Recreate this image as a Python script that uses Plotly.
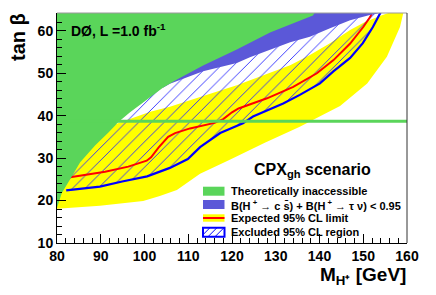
import plotly.graph_objects as go

# ---------------- data ----------------
# Theoretically inaccessible region: lower-right boundary (M_H+ [GeV], tan beta)
green_x = [80.0, 81.1, 83.0, 85.3, 88.7, 91.7, 93.3, 93.9, 96.7, 100.6, 104.2, 107.0,
           113.4, 121.1, 128.7, 133.3, 138.5, 139.0, 80.0]
green_y = [18.3, 21.8, 25.0, 29.0, 33.0, 36.0, 37.7, 38.4, 40.8, 43.8, 46.6, 48.3,
           51.8, 55.6, 59.6, 61.5, 63.6, 64.4, 64.4]

# B(H+ -> cs) + B(H+ -> tau nu) < 0.95 : lower boundary
purple_x = [104.2, 105.8, 113.4, 121.1, 124.1, 133.3, 137.8, 142.4, 147.0, 151.5, 155.0, 104.2]
purple_y = [46.6, 47.5, 50.5, 52.4, 53.8, 57.3, 58.6, 60.6, 62.5, 63.7, 64.4, 64.4]

# expected-limit band (yellow): lower edge then upper edge (reversed)
band_lo_x = [80.0, 89.8, 99.7, 103.5, 107.4, 112.7, 119.5, 127.5, 135.5, 140.8, 144.7,
             150.9, 155.4, 158.4, 159.2]
band_lo_y = [18.1, 18.8, 19.9, 21.1, 22.5, 26.3, 29.6, 33.6, 37.4, 40.2, 42.3,
             47.6, 53.9, 60.9, 64.4]
band_hi_x = [156.3, 153.8, 150.4, 147.0, 142.4, 137.8, 133.3, 128.7, 121.1, 112.7,
             105.8, 101.3, 92.8, 80.0]
band_hi_y = [64.4, 63.5, 62.1, 60.2, 57.1, 54.3, 51.9, 50.1, 47.2, 44.4,
             42.1, 40.9, 37.8, 38.0]

# observed excluded region boundary (blue)
obs_x = [82.1, 89.8, 94.9, 100.6, 105.8, 109.9, 112.7, 114.5, 117.3, 122.5, 124.8,
         131.7, 135.5, 140.1, 143.1, 147.0, 149.9, 152.2, 153.8, 154.0]
obs_y = [22.4, 23.3, 24.5, 25.7, 27.7, 29.8, 32.6, 33.9, 35.9, 38.2, 39.8,
         42.9, 44.9, 47.6, 50.4, 53.6, 57.1, 60.9, 63.9, 64.4]
excl_close_x = [80.0, 80.0]
excl_close_y = [64.4, 22.4]

# expected 95% CL limit (red)
exp_x = [83.0, 91.0, 96.3, 100.5, 101.5, 103.2, 105.4, 107.0, 110.4, 114.0, 116.0,
         118.0, 120.0, 121.5, 128.0, 134.0, 139.4, 143.2, 147.0, 150.0, 151.6, 152.1]
exp_y = [25.5, 26.8, 28.0, 29.4, 30.2, 32.5, 35.0, 35.9, 37.0, 37.8, 38.3,
         39.2, 40.8, 41.7, 44.1, 46.8, 50.0, 53.1, 57.0, 60.9, 63.3, 64.4]

# horizontal theoretical line
hline_tanb = 38.7
mass_range = [80, 160]
tanb_range = [10, 64.2]

x_ticks = [80, 90, 100, 110, 120, 130, 140, 150, 160]
y_ticks = [10, 20, 30, 40, 50, 60]

legend_labels = [
    "Theoretically inaccessible",
    "B(H<sup> +</sup> \u2192 c s\u0304) + B(H<sup> +</sup> \u2192 \u03c4 \u03bd) &lt; 0.95",
    "Expected 95% CL limit",
    "Excluded 95% CL region",
]

# ---------------- styles ----------------
GREEN = "#5AD55A"
PURPLE = "#5B58D8"
YELLOW = "#FFFF00"
RED = "#FF0000"
BLUE = "#0000FF"
FONT = "Liberation Sans"

fig = go.Figure()

# yellow band
fig.add_trace(go.Scatter(
    x=band_lo_x + band_hi_x, y=band_lo_y + band_hi_y,
    fill="toself", fillcolor=YELLOW, mode="none", hoverinfo="skip", showlegend=False))

# hatched excluded region
fig.add_trace(go.Scatter(
    x=obs_x + excl_close_x, y=obs_y + excl_close_y,
    fill="toself", fillcolor="rgba(0,0,0,0)", mode="none",
    fillpattern=dict(shape="/", fgcolor="#2a2aff", fillmode="replace",
                     size=9, solidity=0.1),
    hoverinfo="skip", showlegend=False))

# expected limit
fig.add_trace(go.Scatter(x=exp_x, y=exp_y, mode="lines",
                         line=dict(color=RED, width=2), showlegend=False))
# observed limit
fig.add_trace(go.Scatter(x=obs_x, y=obs_y, mode="lines",
                         line=dict(color=BLUE, width=2.2), showlegend=False))

# purple region
fig.add_trace(go.Scatter(x=purple_x, y=purple_y, fill="toself", fillcolor=PURPLE,
                         mode="none", hoverinfo="skip", showlegend=False))
# green region
fig.add_trace(go.Scatter(x=green_x, y=green_y, fill="toself", fillcolor=GREEN,
                         mode="none", hoverinfo="skip", showlegend=False))
# green horizontal line
fig.add_trace(go.Scatter(x=mass_range, y=[hline_tanb, hline_tanb], mode="lines",
                         line=dict(color=GREEN, width=3), showlegend=False))

axis_common = dict(showgrid=False, zeroline=False, showline=True, linecolor="black",
                   linewidth=1, ticks="inside", tickcolor="black", tickwidth=1,
                   ticklen=9, automargin=False,
                   tickfont=dict(family=FONT, size=14, color="black", weight="bold"))

fig.update_xaxes(range=mass_range, tickvals=x_ticks,
                 minor=dict(ticks="inside", ticklen=5, dtick=2, tickcolor="black"),
                 **axis_common)
fig.update_yaxes(range=tanb_range, tickvals=y_ticks,
                 minor=dict(ticks="inside", ticklen=5, dtick=2, tickcolor="black"),
                 **axis_common)

# plot geometry in pixels
W, H = 436, 295
ML, MR, MT, MB = 57, 29, 13, 52
PW, PH = W - ML - MR, H - MT - MB


def px(xp):
    return (xp - ML) / PW


def py(yp):
    return (H - MB - yp) / PH


shapes = [
    dict(type="line", xref="paper", yref="paper", x0=0, x1=1, y0=1, y1=1,
         line=dict(color="#999999", width=1)),
    dict(type="line", xref="paper", yref="paper", x0=1, x1=1, y0=0, y1=1,
         line=dict(color="#333333", width=1)),
]

# legend symbols
bx0, bx1 = 203, 224.5
rows = [(186.7, 195.7), (200, 209), (214.3, 221.7), (227.7, 236.7)]
shapes.append(dict(type="rect", xref="paper", yref="paper", x0=px(bx0), x1=px(bx1),
                   y0=py(rows[0][1]), y1=py(rows[0][0]), fillcolor=GREEN, line_width=0))
shapes.append(dict(type="rect", xref="paper", yref="paper", x0=px(bx0), x1=px(bx1),
                   y0=py(rows[1][1]), y1=py(rows[1][0]), fillcolor=PURPLE, line_width=0))
shapes.append(dict(type="rect", xref="paper", yref="paper", x0=px(bx0), x1=px(bx1),
                   y0=py(rows[2][1]), y1=py(rows[2][0]), fillcolor=YELLOW, line_width=0))
ym = (rows[2][0] + rows[2][1]) / 2
shapes.append(dict(type="line", xref="paper", yref="paper", x0=px(bx0), x1=px(bx1),
                   y0=py(ym), y1=py(ym), line=dict(color=RED, width=2)))
hy0, hy1 = rows[3]
for k in [0, 7, 14]:
    xa = bx0 + k - 2
    xb = xa + (hy1 - hy0)
    xs, ys = xa, hy1
    xe, ye = xb, hy0
    if xs < bx0:
        ys = hy1 - (bx0 - xs)
        xs = bx0
    if xe > bx1:
        ye = hy0 + (xe - bx1)
        xe = bx1
    shapes.append(dict(type="line", xref="paper", yref="paper", x0=px(xs), x1=px(xe),
                       y0=py(ys), y1=py(ye), line=dict(color=BLUE, width=1)))
shapes.append(dict(type="rect", xref="paper", yref="paper", x0=px(bx0), x1=px(bx1),
                   y0=py(hy1), y1=py(hy0), line=dict(color=BLUE, width=2),
                   fillcolor="rgba(0,0,0,0)"))

annotations = []
for lab, (r0, r1) in zip(legend_labels, rows):
    annotations.append(dict(text=lab, xref="paper", yref="paper", x=px(229),
                            y=py((r0 + r1) / 2), xanchor="left", yanchor="middle",
                            showarrow=False,
                            font=dict(family=FONT, size=11, color="black", weight="bold")))

annotations += [
    dict(text="CPX<sub>gh</sub> scenario", xref="paper", yref="paper", x=px(252),
         y=py(170), xanchor="left", yanchor="middle", showarrow=False,
         font=dict(family=FONT, size=16, color="black", weight="bold")),
    dict(text="D\u00d8, L =1.0 fb<sup>-1</sup>", xref="paper", yref="paper", x=px(69),
         y=py(30), xanchor="left", yanchor="middle", showarrow=False,
         font=dict(family=FONT, size=14, color="black", weight="bold")),
    dict(text="M<sub>H\u207a</sub> [GeV]", xref="paper", yref="paper", x=1.003,
         y=py(276), xanchor="right", yanchor="middle", showarrow=False,
         font=dict(family=FONT, size=19, color="black", weight="bold")),
    dict(text="tan \u03b2", xref="paper", yref="paper", x=px(18), y=py(37),
         xanchor="center", yanchor="middle", textangle=-90, showarrow=False,
         font=dict(family=FONT, size=20, color="black", weight="bold")),
]

fig.update_layout(
    width=W, height=H,
    margin=dict(l=ML, r=MR, t=MT, b=MB),
    paper_bgcolor="white", plot_bgcolor="white",
    shapes=shapes, annotations=annotations,
    showlegend=False,
)

fig.write_html("out.html", config=dict(displayModeBar=False, staticPlot=True),
               post_script="document.body.style.margin='0';document.body.style.overflow='hidden';")
